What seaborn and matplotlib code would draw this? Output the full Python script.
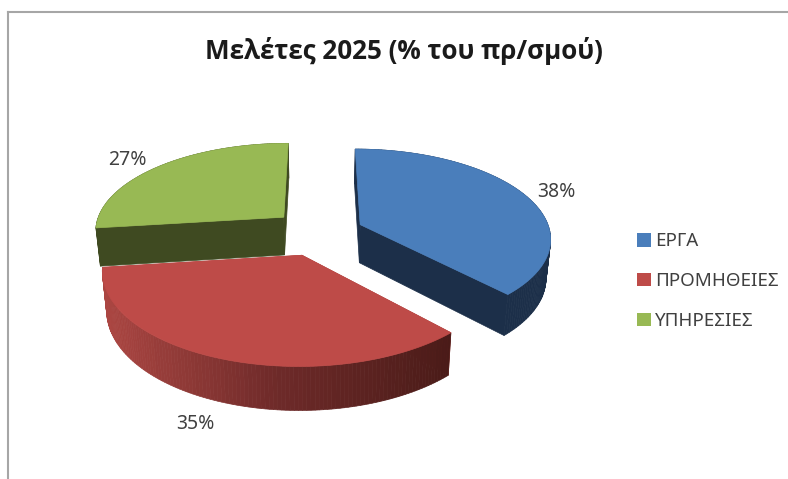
import numpy as np
import matplotlib.pyplot as plt
from matplotlib.patches import Patch
import seaborn as sns

sns.set_theme(style="white")
plt.rcParams['font.family'] = ['Noto Sans', 'DejaVu Sans']

TITLE = 'Μελέτες 2025 (% του πρ/σμού)'
categories = ['ΕΡΓΑ', 'ΠΡΟΜΗΘΕΙΕΣ', 'ΥΠΗΡΕΣΙΕΣ']
values = [38, 35, 27]
explode = [0.23, 0.27, 0.26]

TOP = ['#4A7EBB', '#BE4B48', '#98B954']
SIDE = [['#1C2F49', '#1C2F49'], ['#AB4642', '#6E2A29', '#4A1B18'], ['#3F4A21', '#3F4A21']]
TEXT = '#404040'

# fake 3D: perspective projection of the tilted disc, in pixels
CX, CY = 320, 232
RX, RY, PERSP = 190, 88.2, 0.1415
DEPTH, SHRINK = 38.4, 0.98


def project(x, y, low=False):
    d = 1 + PERSP * y
    sx = CX + RX * x / d
    sy = CY - RY * y / d
    if low:
        sx = CX + (sx - CX) * SHRINK
        sy = CY + (sy - CY) * SHRINK + DEPTH / d
    return sx, sy


def wall(ax, xs, ys, color):
    x0, y0 = project(xs, ys)
    x1, y1 = project(xs, ys, low=True)
    ax.fill(np.r_[x0, x1[::-1]], np.r_[y0, y1[::-1]], color=color, lw=0.5)


fig = plt.figure(figsize=(7.88, 4.79), dpi=100)
ax = fig.add_axes([8 / 788, 0, 780 / 788, 467 / 479])
ax.set_xlim(8, 788)
ax.set_ylim(479, 12)
ax.set_xticks([])
ax.set_yticks([])
for side in ['right', 'bottom']:
    ax.spines[side].set_visible(False)
for side in ['left', 'top']:
    ax.spines[side].set_color('#A6A6A6')
    ax.spines[side].set_linewidth(1.5)

edges = np.cumsum([0] + values) / sum(values) * 2 * np.pi
mids = (edges[:-1] + edges[1:]) / 2

# back to front: green, red, blue
for i in [2, 1, 0]:
    ox = explode[i] * np.sin(mids[i])
    oy = explode[i] * np.cos(mids[i])
    t = np.linspace(edges[i], edges[i + 1], 120)
    arc_x = ox + np.sin(t)
    arc_y = oy + np.cos(t)

    # straight walls from the centre out to both ends of the arc
    for end in [0, -1]:
        wall(ax, np.array([ox, arc_x[end]]), np.array([oy, arc_y[end]]), SIDE[i][-1] if i != 1 else SIDE[i][0])

    # rim, cut in strips so it can shade from left to right
    x_top = project(arc_x, arc_y)[0]
    shades = sns.blend_palette(SIDE[i], 60)
    order = np.clip(((x_top - x_top.min()) / np.ptp(x_top) * 59).astype(int), 0, 59)
    for j in range(len(t) - 1):
        wall(ax, arc_x[j:j + 2], arc_y[j:j + 2], shades[order[j]])

    sx, sy = project(np.r_[ox, arc_x], np.r_[oy, arc_y])
    ax.fill(sx, sy, color=TOP[i], lw=0.5)

label_pos = [(556, 192), (195, 424), (127, 160)]
for v, (lx, ly) in zip(values, label_pos):
    ax.text(lx, ly, f'{v}%', ha='center', va='center', fontsize=14, color=TEXT)

ax.text(404, 51, TITLE, ha='center', va='center', fontsize=18.7, fontweight='bold',
        family='Open Sans', color='#1a1a1a')

handles = [Patch(facecolor=c, edgecolor='none') for c in TOP]
ax.legend(handles, categories, loc='upper left', bbox_to_anchor=(0.8065, 0.528), frameon=False,
          fontsize=13.5, labelcolor=TEXT, handlelength=0.72, handleheight=0.72, handletextpad=0.25,
          labelspacing=1.17, borderpad=0, borderaxespad=0)

plt.savefig('out.png', dpi=100)
plt.close()
